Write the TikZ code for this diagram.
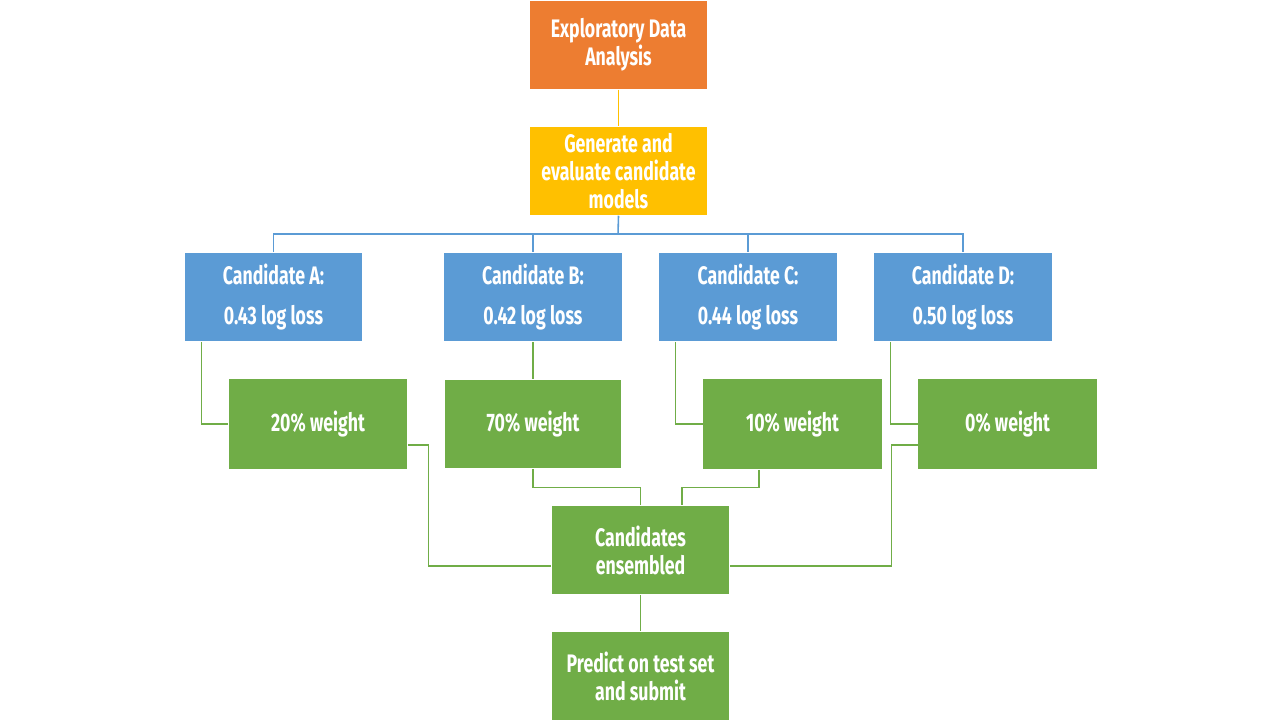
\documentclass[tikz,border=0pt]{standalone}
\usepackage{fontspec}
\setmainfont{Fira Sans}[FakeStretch=0.7]
\usepackage{xcolor}
\usetikzlibrary{positioning}
\definecolor{edaorange}{HTML}{ED7D31}
\definecolor{genyellow}{HTML}{FFC000}
\definecolor{candblue}{HTML}{5B9BD5}
\definecolor{wgreen}{HTML}{70AD47}

\begin{document}
\begin{tikzpicture}[x=0.01cm, y=-0.01cm,
    box/.style={minimum width=1.77cm, minimum height=0.88cm, inner sep=0pt,
        text=white, align=center, font=\bfseries\fontsize{7.2}{8}\selectfont},
    candbox/.style={box, fill=candblue, font=\bfseries\fontsize{7.2}{11.2}\selectfont},
    wbox/.style={box, fill=wgreen, minimum width=1.78cm, minimum height=0.9cm},
    yline/.style={draw=genyellow, line width=0.4pt},
    bline/.style={draw=candblue, line width=0.45pt},
    gline/.style={draw=wgreen, line width=0.4pt}]
    \useasboundingbox (0,0) rectangle (1280,720);

    % top of the flow
    \node[box, fill=edaorange] (eda) at (618.5,45)  {Exploratory Data\\Analysis};
    \node[box, fill=genyellow] (gen) at (618.5,171) {Generate and\\evaluate candidate\\models};

    % candidates
    \node[candbox] (canda) at (273.5,297) {Candidate A:\\0.43 log loss};
    \node[candbox] (candb) at (533,297)   {Candidate B:\\0.42 log loss};
    \node[candbox] (candc) at (748,297)   {Candidate C:\\0.44 log loss};
    \node[candbox] (candd) at (963,297)   {Candidate D:\\0.50 log loss};

    % weights
    \node[wbox] (wa) at (318,424)    {20\% weight};
    \node[wbox, minimum width=1.76cm, minimum height=0.88cm] (wb) at (533,424) {70\% weight};
    \node[wbox] (wc) at (792.5,424)  {10\% weight};
    \node[wbox] (wd) at (1007.5,424) {0\% weight};

    % bottom of the flow
    \node[box, fill=wgreen] (ens)  at (640.5,550) {Candidates\\ensembled};
    \node[box, fill=wgreen] (pred) at (640.5,676) {Predict on test set\\and submit};

    \draw[yline] (eda.south) -- (gen.north);
    \draw[bline] (gen.south) -- (618,234) coordinate (bus);
    \draw[bline] (bus) -| (canda.north);
    \draw[bline] (bus) -| (candb.north);
    \draw[bline] (bus) -| (candc.north);
    \draw[bline] (bus) -| (candd.north);

    \draw[gline] ([xshift=0.17cm]canda.south west) |- (wa.west);
    \draw[gline] (candb.south) -- (wb.north);
    \draw[gline] ([xshift=0.17cm]candc.south west) |- (wc.west);
    \draw[gline] ([xshift=0.17cm]candd.south west) |- (wd.west);

    \draw[gline] ([yshift=-0.21cm]wa.east) -- ++(21,0) |- ([yshift=-0.16cm]ens.west);
    \draw[gline] (wb.south) -- ++(0,19) -| (ens.north);
    \draw[gline] ([xshift=-0.335cm]wc.south) -- ++(0,18) -| ([xshift=0.415cm]ens.north);
    \draw[gline] ([yshift=-0.21cm]wd.west) -- ++(-26,0) |- ([yshift=-0.16cm]ens.east);
    \draw[gline] (ens.south) -- (pred.north);
\end{tikzpicture}
\end{document}
